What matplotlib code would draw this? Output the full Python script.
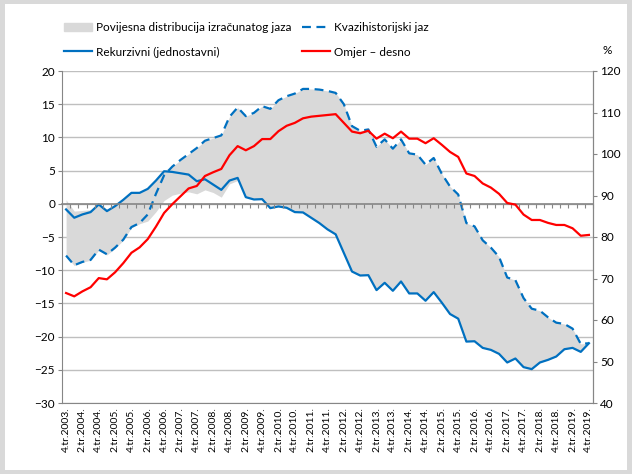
import matplotlib.pyplot as plt
import matplotlib.patches as mpatches
from matplotlib.lines import Line2D
from matplotlib.ticker import FixedLocator, NullFormatter

plt.rcParams['font.family'] = ['Lato', 'DejaVu Sans']

# quarters 4.tr.2003 .. 4.tr.2019
quarters = ["4.tr.2003."] + [f"{q}.tr.{y}." for y in range(2004, 2020) for q in (1, 2, 3, 4)]

rekurzivni = [-0.85, -2.1, -1.6, -1.25, -0.1, -1.1, -0.35, 0.6, 1.65, 1.65,
              2.25, 3.5, 4.9, 4.8, 4.6, 4.4, 3.4, 3.7, 2.9, 2.1,
              3.5, 3.9, 1.0, 0.65, 0.7, -0.65, -0.4, -0.6, -1.25, -1.3,
              -2.1, -2.9, -3.85, -4.6, -7.4, -10.2, -10.8, -10.75, -13.0, -11.9,
              -13.1, -11.7, -13.5, -13.5, -14.6, -13.3, -14.9, -16.6, -17.3, -20.75,
              -20.7, -21.7, -22.0, -22.6, -23.9, -23.3, -24.6, -24.9, -23.9, -23.5,
              -23.0, -21.9, -21.7, -22.3, -21.0]

kvazi = [-7.8, -9.25, -8.75, -8.45, -6.9, -7.6, -6.6, -5.4, -3.5, -2.9,
         -1.6, 1.5, 4.3, 5.6, 6.6, 7.5, 8.4, 9.5, 9.9, 10.3,
         13.1, 14.5, 13.2, 13.7, 14.7, 14.3, 15.6, 16.2, 16.6, 17.3,
         17.3, 17.2, 17.0, 16.7, 15.0, 11.7, 11.0, 11.2, 8.6, 9.7,
         8.3, 9.7, 7.6, 7.4, 5.9, 6.9, 4.5, 2.6, 1.4, -2.9,
         -3.4, -5.5, -6.6, -8.0, -11.1, -11.5, -14.2, -15.8, -16.1, -17.1,
         -17.9, -18.1, -18.8, -21.1, -21.0]

omjer = [66.5, 65.7, 66.9, 67.9, 70.1, 69.8, 71.5, 73.7, 76.2, 77.5,
         79.5, 82.5, 85.8, 87.9, 89.8, 91.7, 92.3, 94.7, 95.6, 96.4,
         99.7, 101.9, 100.9, 101.9, 103.6, 103.6, 105.5, 106.8, 107.5, 108.6,
         109.0, 109.2, 109.4, 109.6, 107.5, 105.4, 105.0, 105.6, 103.7, 104.9,
         103.8, 105.4, 103.7, 103.7, 102.6, 103.8, 102.2, 100.5, 99.3, 95.3,
         94.7, 92.9, 91.9, 90.4, 88.2, 87.8, 85.4, 84.1, 84.1, 83.4,
         82.9, 82.9, 82.1, 80.3, 80.5]

band_top = [0.6, -1.1, -1.0, -0.9, 0.0, -0.8, -0.2, 0.7, 1.8, 1.8,
            2.4, 3.6, 5.0, 5.6, 6.6, 7.5, 8.4, 9.5, 9.9, 10.3,
            13.1, 14.5, 13.2, 13.7, 14.7, 14.3, 15.6, 16.2, 16.6, 17.3,
            17.3, 17.2, 17.0, 16.7, 15.0, 11.7, 11.0, 11.2, 8.6, 9.7,
            8.3, 9.7, 7.6, 7.4, 5.9, 6.9, 4.5, 2.6, 1.4, -2.9,
            -3.4, -5.5, -6.6, -8.0, -11.1, -11.5, -14.2, -15.8, -16.1, -17.1,
            -17.9, -18.1, -18.8, -21.1, -21.0]

band_bottom = [-7.9, -9.3, -8.8, -8.5, -7.0, -7.7, -6.7, -5.5, -3.6, -3.0,
               -2.6, -1.2, 0.5, 1.3, 1.6, 1.8, 1.5, 2.1, 1.7, 1.0,
               3.0, 3.5, 1.0, 0.65, 0.7, -0.65, -0.4, -0.6, -1.25, -1.3,
               -2.1, -2.9, -3.85, -4.6, -7.4, -10.2, -10.8, -10.75, -13.0, -11.9,
               -13.1, -11.7, -13.5, -13.5, -14.6, -13.3, -14.9, -16.6, -17.3, -20.75,
               -20.7, -21.7, -22.0, -22.6, -23.9, -23.3, -24.6, -24.9, -23.9, -23.5,
               -23.0, -21.9, -21.7, -22.3, -21.0]

blue = '#0070C0'
red = '#FF0000'
grey = '#D9D9D9'
axis_col = '#868686'

fig = plt.figure(figsize=(6.32, 4.74), dpi=100, facecolor=grey)
fig.patches.append(mpatches.Rectangle((5 / 632, 4 / 474), 622 / 632, 466 / 474,
                                      transform=fig.transFigure, facecolor='white',
                                      edgecolor='none', zorder=-10))
ax = fig.add_axes([62 / 632, 1 - 403 / 474, 531 / 632, 332 / 474])
ax.set_facecolor('none')

x = list(range(len(quarters)))
ax.fill_between(x, band_bottom, band_top, color=grey, lw=0, zorder=1)
ax.plot(x, rekurzivni, color=blue, lw=1.6, zorder=3)
ax.plot(x, kvazi, color=blue, lw=1.6, ls=(0, (4, 2.5)), zorder=3)

ax.set_xlim(-0.5, len(quarters) - 0.5)
ax.set_ylim(-30, 20)
ax.set_yticks(range(-30, 21, 5))
ax.yaxis.grid(True, color='#BFBFBF', lw=1)
ax.set_axisbelow(True)
ax.set_xticks(x[::2])
ax.set_xticklabels(quarters[::2], rotation=90, fontsize=7.5)
ax.tick_params(axis='x', length=0, pad=3)
ax.tick_params(axis='y', length=3, color=axis_col, labelsize=8.5, pad=2)
for s in ['left', 'bottom']:
    ax.spines[s].set_color(axis_col)
ax.spines['top'].set_visible(False)
ax.spines['right'].set_color(axis_col)

# category axis crossing at zero
sec = ax.secondary_xaxis(0.6)
sec.xaxis.set_major_locator(FixedLocator([i - 0.5 for i in range(len(quarters) + 1)]))
sec.xaxis.set_major_formatter(NullFormatter())
sec.tick_params(axis='x', direction='in', length=3, color=axis_col, width=0.8)
for s in ['top', 'bottom']:
    sec.spines[s].set_color(axis_col)
    sec.spines[s].set_linewidth(1.2)
sec.set_zorder(4)

ax2 = ax.twinx()
ax2.plot(x, omjer, color=red, lw=1.6)
ax2.set_ylim(40, 120)
ax2.set_yticks(range(40, 121, 10))
ax2.tick_params(axis='y', length=3, color=axis_col, labelsize=8.5, pad=2)
for s in ['top', 'left', 'bottom']:
    ax2.spines[s].set_visible(False)
ax2.spines['right'].set_color(axis_col)

handles = [mpatches.Patch(color=grey),
           Line2D([], [], color=blue, lw=1.6),
           Line2D([], [], color=blue, lw=1.6, ls=(0, (4, 2.5))),
           Line2D([], [], color=red, lw=1.6)]
labels = ['Povijesna distribucija izračunatog jaza', 'Rekurzivni (jednostavni)',
          'Kvazihistorijski jaz', 'Omjer – desno']
fig.legend(handles, labels, ncol=2, loc='upper left', bbox_to_anchor=(64 / 632, 1 - 22 / 474),
           frameon=False, fontsize=8.5, handlelength=2.4, handletextpad=0.3,
           columnspacing=0.9, labelspacing=1.15, borderaxespad=0, borderpad=0)
fig.text(607 / 632, 1 - 50 / 474, '%', fontsize=8.5, ha='center', va='center')

fig.savefig('out.png', dpi=100, facecolor=grey)
